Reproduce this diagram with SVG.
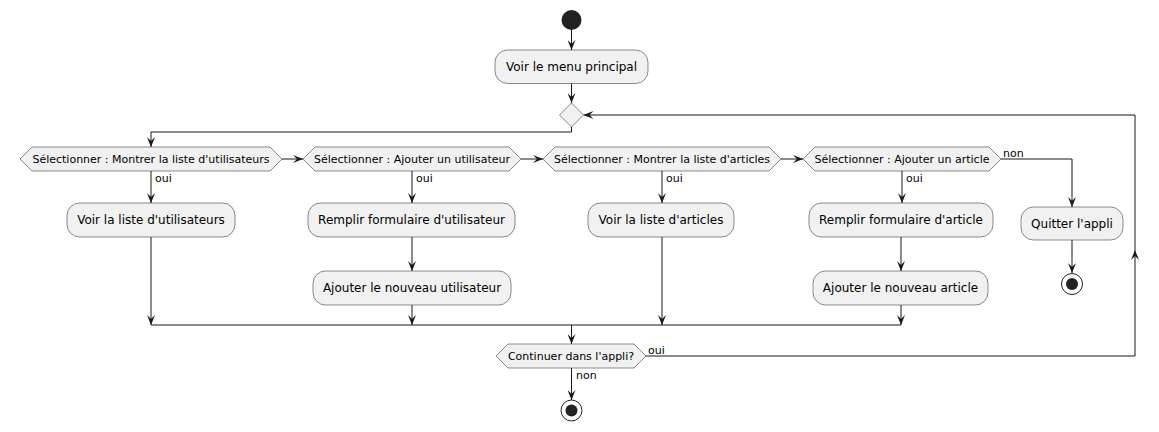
<svg xmlns="http://www.w3.org/2000/svg" width="1159" height="432" viewBox="0 0 1159 432">
<style>
.act{fill:#F1F1F1;stroke:#181818;stroke-width:0.5}
.hex{fill:#F1F1F1;stroke:#181818;stroke-width:0.5}
.t12{font-family:"DejaVu Sans",sans-serif;font-size:12px;fill:#000;text-anchor:middle}
.t11{font-family:"DejaVu Sans",sans-serif;font-size:11px;fill:#000;text-anchor:middle}
.lbl{font-family:"DejaVu Sans",sans-serif;font-size:11px;fill:#000}
.ln{fill:none;stroke:#181818;stroke-width:1}
.ar{marker-end:url(#ah)}
</style>
<defs>
<marker id="ah" markerUnits="userSpaceOnUse" markerWidth="10" markerHeight="8" refX="10" refY="4" orient="auto" viewBox="0 0 10 8">
<path d="M0,0 L10,4 L0,8 L4,4 Z" fill="#181818"/>
</marker>
</defs>
<g id="start"><circle cx="571.5" cy="20" r="10" fill="#222222"/></g>
<g id="menu"><rect class="act" x="495" y="50" width="153" height="33.5" rx="12.5"/><text class="t12" x="571.5" y="71">Voir le menu principal</text></g>
<g id="merge1"><polygon class="hex" points="559.5,115 571.5,103 583.5,115 571.5,127"/></g>
<g id="if1"><polygon class="hex" points="20,159 32,147 270,147 282,159 270,171 32,171"/><text class="t11" x="151" y="163">Sélectionner : Montrer la liste d'utilisateurs</text></g>
<g id="if2"><polygon class="hex" points="303,159 315,147 509,147 521,159 509,171 315,171"/><text class="t11" x="412" y="163">Sélectionner : Ajouter un utilisateur</text></g>
<g id="if3"><polygon class="hex" points="543,159 555,147 769,147 781,159 769,171 555,171"/><text class="t11" x="662" y="163">Sélectionner : Montrer la liste d'articles</text></g>
<g id="if4"><polygon class="hex" points="803,159 815,147 989,147 1001,159 989,171 815,171"/><text class="t11" x="902" y="163">Sélectionner : Ajouter un article</text></g>
<g id="a1"><rect class="act" x="67" y="203" width="168" height="34" rx="12.5"/><text class="t12" x="151" y="224">Voir la liste d'utilisateurs</text></g>
<g id="a2"><rect class="act" x="308" y="203" width="207" height="34" rx="12.5"/><text class="t12" x="411.5" y="224">Remplir formulaire d'utilisateur</text></g>
<g id="a2b"><rect class="act" x="313" y="271" width="198" height="34" rx="12.5"/><text class="t12" x="412" y="292">Ajouter le nouveau utilisateur</text></g>
<g id="a3"><rect class="act" x="588" y="203" width="146" height="34" rx="12.5"/><text class="t12" x="661" y="224">Voir la liste d'articles</text></g>
<g id="a4"><rect class="act" x="809" y="203" width="184" height="34" rx="12.5"/><text class="t12" x="901" y="224">Remplir formulaire d'article</text></g>
<g id="a4b"><rect class="act" x="813" y="271" width="175" height="34" rx="12.5"/><text class="t12" x="900.5" y="292">Ajouter le nouveau article</text></g>
<g id="quit"><rect class="act" x="1021" y="207" width="102" height="33" rx="12.5"/><text class="t12" x="1072" y="228">Quitter l'appli</text></g>
<g id="stop1"><circle cx="1072" cy="284" r="10.5" fill="none" stroke="#222222" stroke-width="1"/><circle cx="1072" cy="284" r="6" fill="#222222"/></g>
<g id="if5"><polygon class="hex" points="496,356 508,344 634,344 646,356 634,368 508,368"/><text class="t11" x="571" y="360">Continuer dans l'appli?</text></g>
<g id="stop2"><circle cx="571.5" cy="410.5" r="10.5" fill="none" stroke="#222222" stroke-width="1"/><circle cx="571.5" cy="410.5" r="6" fill="#222222"/></g>
<g id="connectors">
<path class="ln ar" d="M571.5,30 L571.5,50"/>
<path class="ln ar" d="M571.5,83.5 L571.5,103"/>
<path class="ln ar" d="M571.5,127 L571.5,132 L151,132 L151,147"/>
<path class="ln ar" d="M282,159 L303,159"/>
<path class="ln ar" d="M521,159 L543,159"/>
<path class="ln ar" d="M781,159 L803,159"/>
<path class="ln ar" d="M1001,159 L1072,159 L1072,207"/>
<path class="ln ar" d="M151,171 L151,203"/>
<path class="ln ar" d="M412,171 L412,203"/>
<path class="ln ar" d="M662,171 L662,203"/>
<path class="ln ar" d="M902,171 L902,203"/>
<path class="ln ar" d="M412,237 L412,271"/>
<path class="ln ar" d="M901,237 L901,271"/>
<path class="ln ar" d="M1072,240 L1072,273"/>
<path class="ln ar" d="M151,237 L151,325"/>
<path class="ln ar" d="M412,305 L412,325"/>
<path class="ln ar" d="M662,237 L662,325"/>
<path class="ln ar" d="M901,305 L901,325"/>
<path class="ln" d="M151,325 L901,325"/>
<path class="ln ar" d="M571.5,325 L571.5,344"/>
<path class="ln ar" d="M571.5,368 L571.5,400"/>
<path class="ln ar" d="M646,356 L1135,356 L1135,250"/>
<path class="ln ar" d="M1135,250 L1135,115 L583.5,115"/>
<text class="lbl" x="155" y="182">oui</text>
<text class="lbl" x="416" y="182">oui</text>
<text class="lbl" x="666" y="182">oui</text>
<text class="lbl" x="906" y="182">oui</text>
<text class="lbl" x="1003" y="157">non</text>
<text class="lbl" x="648" y="354">oui</text>
<text class="lbl" x="576" y="379">non</text>
</g>
</svg>
